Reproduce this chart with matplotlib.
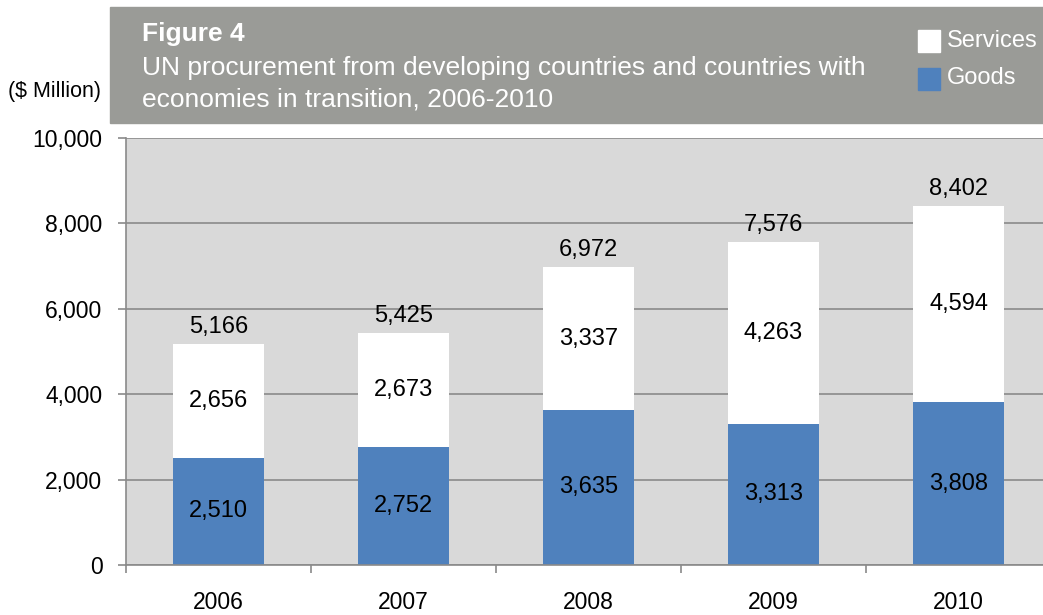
import matplotlib.pyplot as plt
from matplotlib.patches import Rectangle
import numpy as np

plt.rcParams['font.family'] = ['Liberation Sans', 'DejaVu Sans']

years = ['2006', '2007', '2008', '2009', '2010']
goods = [2510, 2752, 3635, 3313, 3808]
services = [2656, 2673, 3337, 4263, 4594]
totals = [5166, 5425, 6972, 7576, 8402]

blue = '#4f81bd'
grid_col = '#8a8a8a'
box_col = '#9a9b97'

fig = plt.figure(figsize=(10.43, 6.15), dpi=100)
ax = fig.add_axes([126 / 1043, 50 / 615, 925 / 1043, 427 / 615])
ax.set_facecolor('#d9d9d9')

x = np.arange(len(years))
ax.bar(x, goods, width=0.49, color=blue, zorder=3)
ax.bar(x, services, width=0.49, bottom=goods, color='white', zorder=3)

for i in range(len(years)):
    ax.text(x[i], goods[i] / 2, f'{goods[i]:,}', ha='center', va='center', fontsize=17, zorder=4)
    ax.text(x[i], goods[i] + services[i] / 2, f'{services[i]:,}', ha='center', va='center',
            fontsize=17, zorder=4)
    ax.annotate(f'{totals[i]:,}', (x[i], totals[i]), xytext=(0, 17), textcoords='offset pixels',
                ha='center', va='center', fontsize=17, zorder=4)

ax.set_xlim(-0.5, 4.5)
ax.set_ylim(0, 10000)
ax.set_yticks(np.arange(0, 10001, 2000))
ax.set_yticklabels([f'{v:,}' for v in range(0, 10001, 2000)], fontsize=16.5)
ax.yaxis.grid(True, color=grid_col, linewidth=1.2, zorder=1)
ax.tick_params(axis='y', length=6, color=grid_col, width=1.2, pad=11)

ax.set_xticks(x)
ax.set_xticklabels(years, fontsize=16.5)
ax.set_xticks(np.arange(-0.5, 5, 1), minor=True)
ax.tick_params(axis='x', which='major', length=0, pad=19)
ax.tick_params(axis='x', which='minor', length=6, color=grid_col, width=1.2)

for s in ['top', 'right']:
    ax.spines[s].set_visible(False)
for s in ['left', 'bottom']:
    ax.spines[s].set_color(grid_col)
    ax.spines[s].set_linewidth(1.2)
    ax.spines[s].set_zorder(5)

# title box
fig.patches.append(Rectangle((110 / 1043, (615 - 123) / 615), 933 / 1043, 116 / 615,
                             transform=fig.transFigure, color=box_col, zorder=0))
fig.text(142 / 1043, 1 - 34 / 615, 'Figure 4', color='white', fontsize=19, fontweight='bold',
         va='center', ha='left')
fig.text(142 / 1043, 1 - 68 / 615, 'UN procurement from developing countries and countries with',
         color='white', fontsize=19, va='center', ha='left')
fig.text(142 / 1043, 1 - 100 / 615, 'economies in transition, 2006-2010',
         color='white', fontsize=19, va='center', ha='left')
fig.text(8 / 1043, 1 - 92 / 615, '($ Million)', fontsize=15.5, va='center', ha='left')

# legend
fig.patches.append(Rectangle((918 / 1043, 1 - 52 / 615), 22 / 1043, 22 / 615,
                             transform=fig.transFigure, color='white', zorder=1))
fig.patches.append(Rectangle((918 / 1043, 1 - 90 / 615), 22 / 1043, 22 / 615,
                             transform=fig.transFigure, color=blue, zorder=1))
fig.text(947 / 1043, 1 - 41 / 615, 'Services', color='white', fontsize=17, va='center', ha='left')
fig.text(947 / 1043, 1 - 78 / 615, 'Goods', color='white', fontsize=17, va='center', ha='left')

plt.savefig('out.png', dpi=100)
